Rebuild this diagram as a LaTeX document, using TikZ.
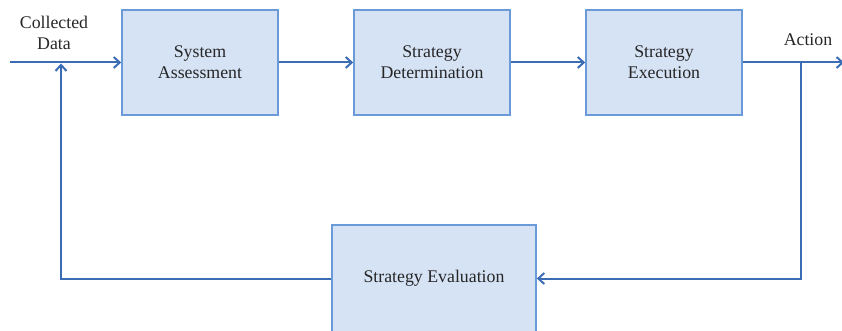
\documentclass[tikz,border=0pt]{standalone}
\usepackage{fontspec}
\setmainfont{Liberation Serif}
\usetikzlibrary{arrows.meta}
\definecolor{boxfill}{HTML}{D6E3F5}
\definecolor{boxline}{HTML}{6A9AD8}
\definecolor{conn}{HTML}{3C6DB4}
\tikzset{
  blk/.style={draw=boxline, line width=1.6pt, fill=boxfill, minimum width=156pt, minimum height=105pt, inner sep=0pt, align=center, text=black!85, font=\fontsize{17.8}{21}\selectfont},
  wire/.style={draw=conn, line width=2pt},
  arr/.style={wire, -{Straight Barb[length=6pt,width=11pt,line width=2pt]}},
  lbl/.style={align=center, text=black!85, font=\fontsize{17.8}{21}\selectfont, inner sep=0pt}
}
\begin{document}
\begin{tikzpicture}[x=1pt,y=-1pt]
\useasboundingbox (0,0) rectangle (842,331);
\node[blk] (sa) at (200,62.5) {System\\Assessment};
\node[blk] (sd) at (432,62.5) {Strategy\\Determination};
\node[blk] (se) at (664,62.5) {Strategy\\Execution};
\node[blk, minimum width=204pt, minimum height=107pt] (ev) at (434,278.5) {Strategy Evaluation};
\node[lbl] (cd) at (54,33) {Collected\\Data};
\node[lbl] (ac) at (808,40) {Action};
\coordinate (in) at (10,62.5);
\coordinate (out) at (844,62.5);
\coordinate (jr) at (801,62.5);
\coordinate (jl) at (61,63.5);
\draw[arr] (in) -- (sa.west);
\draw[arr] (sa.east) -- (sd.west);
\draw[arr] (sd.east) -- (se.west);
\draw[arr] (se.east) -- (out);
\draw[arr] (jr) |- (ev.east);
\draw[arr] (ev.west) -| (jl);
\end{tikzpicture}
\end{document}
